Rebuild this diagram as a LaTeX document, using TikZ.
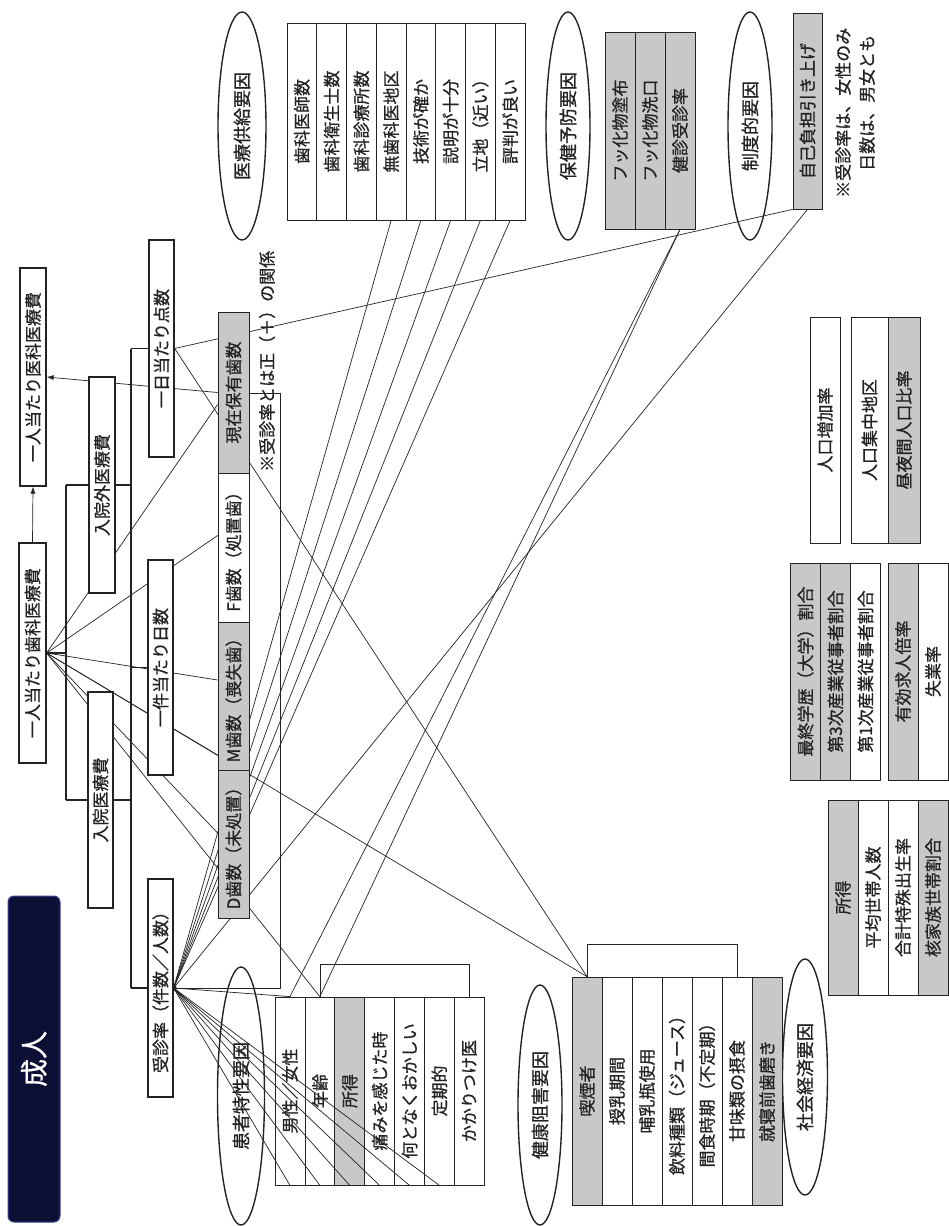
\documentclass[tikz,border=0pt]{standalone}
\usepackage{fontspec}
\setmainfont{Noto Sans CJK JP}[RawFeature={embolden=0.8}]
\usetikzlibrary{shapes.geometric, arrows.meta, calc, backgrounds}
\definecolor{cellgray}{RGB}{200, 200, 200}
\definecolor{deepnavy}{RGB}{12, 16, 52}
\definecolor{navyrim}{RGB}{60, 70, 150}
\definecolor{inkgray}{RGB}{35, 35, 35}

\begin{document}
\begin{tikzpicture}[
    x=1pt, y=-1pt,
    txt/.style={font=\fontsize{17}{17}\selectfont, text=inkgray},
    treebox/.style={draw=inkgray, line width=1.3pt, fill=white, rotate=90,
                    inner sep=0pt, txt},
    cell/.style={draw=inkgray, line width=0.8pt, rotate=90, inner sep=0pt, txt},
    factor/.style={draw=inkgray, ellipse, line width=1.4pt, rotate=90,
                   inner sep=0pt, font=\fontsize{18}{18}\selectfont, text=inkgray},
    memo/.style={rotate=90, inner sep=0pt, txt},
    tree/.style={draw=inkgray, line width=1.3pt},
    lnk/.style={draw=inkgray, line width=0.7pt},
    arr/.style={lnk, -{Latex[length=7pt, width=5pt]}},
]
    \useasboundingbox (0,0) rectangle (949,1226);

    \node[rotate=90, rounded corners=6pt, fill=deepnavy, draw=navyrim, line width=1pt,
          minimum width=326pt, minimum height=52pt, text=white,
          font=\fontsize{28}{28}\selectfont] (ttl) at (34,1059) {成人};

    % cost breakdown
    \node[treebox, minimum width=218pt, minimum height=26pt] (ika) at (33,377) {一人当たり医科医療費};
    \node[treebox, minimum width=220pt, minimum height=27pt] (shika) at (32.5,653) {一人当たり歯科医療費};
    \node[treebox, minimum width=216pt, minimum height=26pt] (gairai) at (102,485) {入院外医療費};
    \node[treebox, minimum width=216pt, minimum height=25pt] (nyuin) at (100.5,800) {入院医療費};
    \node[treebox, minimum width=217pt, minimum height=25pt] (tensu) at (161.5,348.5) {一日当たり点数};
    \node[treebox, minimum width=215pt, minimum height=25pt] (nissu) at (160.5,667.5) {一件当たり日数};
    \node[treebox, minimum width=218pt, minimum height=25pt] (jushin) at (160.5,988) {受診率（件数／人数）};

    % teeth counts
    \node[cell, fill=cellgray, minimum width=161pt, minimum height=31pt] (genzai) at (233.5,392.5) {現在保有歯数};
    \node[cell, fill=white, minimum width=149pt, minimum height=31pt] (fsu) at (233.5,547.5) {F歯数（処置歯）};
    \node[cell, fill=cellgray, minimum width=148pt, minimum height=31pt] (msu) at (233.5,696) {M歯数（喪失歯）};
    \node[cell, fill=cellgray, minimum width=148pt, minimum height=31pt] (dsu) at (233.5,844) {D歯数（未処置）};
    \node[memo, anchor=west] (seinote) at (267,472) {※受診率とは正（＋）の関係};

    % supply / prevention / system
    \node[factor, minimum width=228pt, minimum height=48pt] (iryo) at (242,126) {医療供給要因};
    \foreach \lbl [count=\i] in {歯科医師数, 歯科衛生士数, 歯科診療所数, 無歯科医地区,
                                 技術が確か, 説明が十分, 立地（近い）, 評判が良い}
        \node[cell, fill=white, minimum width=197pt, minimum height=29.75pt]
            (i\i) at ({287+29.75*(\i-0.5)},121.5) {\lbl};

    \node[factor, minimum width=228pt, minimum height=44pt] (hoken) at (568,126) {保健予防要因};
    \foreach \lbl [count=\i] in {フッ化物塗布, フッ化物洗口, 健診受診率}
        \node[cell, fill=cellgray, minimum width=197pt, minimum height=30pt]
            (k\i) at ({605+30*(\i-0.5)},130.5) {\lbl};

    \node[factor, minimum width=228pt, minimum height=44pt] (seido) at (750,126) {制度的要因};
    \node[cell, fill=cellgray, minimum width=196pt, minimum height=29pt] (jiko) at (807.5,111) {自己負担引き上げ};
    \node[memo, anchor=west] (jnote1) at (843,198) {※受診率は、女性のみ};
    \node[memo, anchor=west] (jnote2) at (867,171) {日数は、男女とも};

    % socio-economic blocks
    \node[cell, fill=white, minimum width=226pt, minimum height=30pt] (jk1) at (825,430) {人口増加率};
    \node[cell, fill=white, minimum width=226pt, minimum height=37pt] (jk2) at (869.5,430) {人口集中地区};
    \node[cell, fill=cellgray, minimum width=226pt, minimum height=32pt] (jk3) at (904,430) {昼夜間人口比率};
    \foreach \lbl/\fc [count=\i] in {最終学歴（大学）割合/cellgray, 第3次産業従事者割合/cellgray,
                                     第1次産業従事者割合/white}
        \node[cell, fill=\fc, minimum width=217pt, minimum height=30pt]
            (gk\i) at ({790.5+30*(\i-0.5)},671.5) {\lbl};
    \foreach \lbl/\fc [count=\i] in {有効求人倍率/cellgray, 失業率/white}
        \node[cell, fill=\fc, minimum width=217pt, minimum height=30pt]
            (em\i) at ({888+30*(\i-0.5)},671.5) {\lbl};
    \foreach \lbl/\fc [count=\i] in {所得/cellgray, 平均世帯人数/white, 合計特殊出生率/white,
                                     核家族世帯割合/cellgray}
        \node[cell, fill=\fc, minimum width=195pt, minimum height=30pt]
            (fm\i) at ({828+30*(\i-0.5)},897.5) {\lbl};

    % patient / health
    \node[factor, minimum width=258pt, minimum height=47pt] (kanja) at (241,1096) {患者特性要因};
    \node[factor, minimum width=240pt, minimum height=44pt] (kenko) at (540,1105) {健康阻害要因};
    \node[factor, minimum width=236pt, minimum height=45pt] (shakai) at (805,1077) {社会経済要因};
    \foreach \lbl/\fc [count=\i] in {喫煙者/cellgray, 授乳期間/white, 哺乳瓶使用/white,
                                     飲料種類（ジュース）/white, 間食時期（不定期）/white,
                                     甘味類の摂食/white, 就寝前歯磨き/cellgray}
        \node[cell, fill=\fc, minimum width=228pt, minimum height=30pt]
            (h\i) at ({572+30*(\i-0.5)},1091) {\lbl};
    \draw[lnk] (h1.east) |- ($(h6.east)+(0,-32)$) -- (h6.east);

    \begin{scope}[on background layer]
        \foreach \lbl/\fc [count=\i] in {男性／女性/white, 年齢/white, 所得/cellgray,
                                         痛みを感じた時/white, 何となくおかしい/white,
                                         定期的/white, かかりつけ医/white}
            \node[cell, fill=\fc, minimum width=188pt, minimum height=29.9pt]
                (p\i) at ({275+29.9*(\i-0.5)},1091) {\lbl};
        \draw[lnk] (p2.east) |- ($(p7.east)+(0,-32)$) -- (p7.east);

        % brackets of the cost tree
        \coordinate (brA) at (66,653);
        \coordinate (brB) at (131,653);
        \coordinate (otop) at (280,393);
        \draw[tree] (shika.south) -- (brA);
        \draw[tree] (brA |- gairai.center) -- (brA |- nyuin.center);
        \draw[tree] (brA |- gairai.center) -- (brB |- gairai.center);
        \draw[tree] (brA |- nyuin.center) -- (brB |- nyuin.center);
        \draw[tree] (brB |- tensu.center) -- (brB |- jushin.center);
        \draw[tree] (brB |- tensu.center) -- (tensu.north);
        \draw[tree] (brB |- nissu.center) -- (nissu.north);
        \draw[tree] (brB |- jushin.center) -- (jushin.north);
        \draw[lnk] (brB |- jushin.center) -- (otop |- jushin.center) -- (otop) -- (genzai.south |- otop);

        \draw[arr] (shika.east) -- (ika.west);
        \draw[arr] (genzai.north) -- (ika.south);

        % relations
        \draw[lnk] (shika.south) -- ($(genzai.north)+(0,12)$);
        \draw[lnk] (shika.south) -- ($(fsu.north)+(0,-12)$);
        \draw[lnk] (shika.south) -- ($(msu.north)+(0,-16)$);
        \draw[lnk] (shika.south) -- ($(msu.north)+(0,59)$);
        \draw[lnk] (shika.south) -- ($(dsu.north)+(0,-11)$);
        \draw[lnk] (shika.south) -- (h1.east);
        \draw[lnk] (shika.south) -- (p2.east);
        \draw[lnk] (tensu.south) -- (jiko.north west);
        \draw[lnk] (tensu.south) -- (h1.east);
        \foreach \j in {4,...,8}
            \draw[lnk] (jushin.south) -- (i\j.west);
        \draw[lnk] (jushin.south) -- (jiko.west);
        \draw[lnk] (jushin.south) -- (p1.east);
        \foreach \j in {1,...,6}
            \draw[lnk] (jushin.south) -- (p\j.west);
        \draw[lnk] (k3.west) -- (p1.east);
        \draw[lnk] (k3.west) -- (p2.east);
        \fill[inkgray] (jushin.south) circle (3pt);
    \end{scope}
\end{tikzpicture}
\end{document}
